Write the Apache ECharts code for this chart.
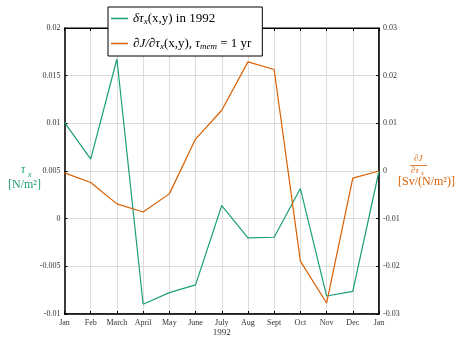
<!DOCTYPE html>
<html>
<head>
<meta charset="utf-8">
<script src="https://cdn.jsdelivr.net/npm/echarts@6/dist/echarts.min.js"></script>
<style>
  html, body { margin: 0; padding: 0; background: #fff; }
  #chart { width: 455px; height: 338px; }
</style>
</head>
<body>
<div id="chart"></div>
<script>
// months 1992 (plus Jan 1993 at the end)
const months = ['Jan', 'Feb', 'March', 'April', 'May', 'June', 'July', 'Aug', 'Sept', 'Oct', 'Nov', 'Dec', 'Jan']
// delta tau_x (left axis, N/m^2)
const tauX = [0.0101, 0.00625, 0.01675, -0.00898, -0.00776, -0.00695, 0.00138, -0.00202, -0.00195, 0.00316, -0.00811, -0.00762, 0.005]
// dJ/dtau_x (right axis, Sv/(N/m^2))
const dJdTau = [-0.0004, -0.0024, -0.0069, -0.0086, -0.0048, 0.0067, 0.01275, 0.0229, 0.0213, -0.0189, -0.0277, -0.0015, 0.0]

const green = '#1b9e77'
const orange = '#d95f02'
const serif = 'Liberation Serif'

let chart = echarts.init(document.getElementById('chart'))

function pairs(vals) {
  return vals.map((v, i) => [i, v])
}

const tickStyle = {fontFamily: serif, fontSize: 8, color: '#333'}
const rich = {
  r: {fontFamily: serif, fontSize: 13, color: '#000'},
  i: {fontFamily: serif, fontSize: 13, fontStyle: 'italic', color: '#000'},
  s: {fontFamily: serif, fontSize: 9, fontStyle: 'italic', color: '#000', padding: [6, 0, 0, 0]}
}

let option = {
  animation: false,
  grid: {left: 64.5, right: 76, top: 28, bottom: 24, outerBoundsMode: 'none', show: true, borderColor: '#000', borderWidth: 1},
  legend: {
    left: 108, top: 7,
    orient: 'vertical',
    backgroundColor: '#fff',
    borderColor: '#000',
    borderWidth: 1,
    padding: [5, 11, 5, 3],
    itemGap: 11,
    itemWidth: 17,
    itemHeight: 1.5,
    icon: 'rect',
    data: ['tau', 'dj'],
    formatter: function (name) {
      if (name === 'tau') return '{i|δτ}{s|x}{r|(x,y) in 1992}'
      return '{i|∂J/∂τ}{s|x}{r|(x,y), }{i|τ}{s|mem}{r| = 1 yr}'
    },
    textStyle: {rich: rich}
  },
  xAxis: [{
    type: 'value', min: 0, max: 12, interval: 1,
    position: 'bottom',
    name: '1992', nameLocation: 'middle', nameGap: 14, nameMoveOverlap: false,
    nameTextStyle: {fontFamily: serif, fontSize: 9, color: '#333'},
    axisLine: {onZero: false, lineStyle: {color: '#000', width: 1.5}},
    axisTick: {inside: true, length: 3, lineStyle: {color: '#000'}},
    axisLabel: Object.assign({margin: 5, formatter: v => months[v] || ''}, tickStyle),
    splitLine: {lineStyle: {color: '#dcdcdc', width: 1}}
  }, {
    type: 'value', min: 0, max: 12, interval: 1,
    position: 'top',
    axisLine: {onZero: false, lineStyle: {color: '#000', width: 1}},
    axisTick: {inside: true, length: 3, lineStyle: {color: '#000'}},
    axisLabel: {show: false},
    splitLine: {show: false}
  }],
  yAxis: [{
    type: 'value', min: -0.01, max: 0.02, interval: 0.005,
    position: 'left',
    axisLine: {show: true, onZero: false, lineStyle: {color: '#000', width: 1.5}},
    axisTick: {show: true, inside: true, length: 3, lineStyle: {color: '#000'}},
    axisLabel: Object.assign({margin: 4, formatter: v => String(+v.toFixed(3))}, tickStyle),
    splitLine: {lineStyle: {color: '#dcdcdc', width: 1}}
  }, {
    type: 'value', min: -0.03, max: 0.03, interval: 0.01,
    position: 'right',
    axisLine: {show: true, onZero: false, lineStyle: {color: '#000', width: 1.5}},
    axisTick: {show: true, inside: true, length: 3, lineStyle: {color: '#000'}},
    axisLabel: Object.assign({margin: 4, formatter: v => String(+v.toFixed(2))}, tickStyle),
    splitLine: {show: false}
  }],
  series: [{
    name: 'tau', type: 'line', xAxisIndex: 0, yAxisIndex: 0,
    data: pairs(tauX), showSymbol: false, color: green,
    lineStyle: {width: 1.2, color: green}
  }, {
    name: 'dj', type: 'line', xAxisIndex: 0, yAxisIndex: 1,
    data: pairs(dJdTau), showSymbol: false, color: orange,
    lineStyle: {width: 1.2, color: orange}
  }],
  graphic: [{
    type: 'text', left: 21, top: 164,
    style: {text: 'τ', font: 'italic 12px "Liberation Serif"', fill: green}
  }, {
    type: 'text', left: 28, top: 171,
    style: {text: 'x', font: 'italic 8px "Liberation Serif"', fill: green}
  }, {
    type: 'text', left: 8, top: 179,
    style: {text: '[N/m²]', font: '12px "Liberation Serif"', fill: green}
  }, {
    type: 'text', left: 414, top: 154,
    style: {text: '∂J', font: 'italic 9px "Liberation Serif"', fill: orange}
  }, {
    type: 'rect', shape: {x: 410, y: 165, width: 17, height: 0.8},
    style: {fill: orange}
  }, {
    type: 'text', left: 411, top: 166,
    style: {text: '∂τ', font: 'italic 9px "Liberation Serif"', fill: orange}
  }, {
    type: 'text', left: 421, top: 170,
    style: {text: 'x', font: 'italic 6px "Liberation Serif"', fill: orange}
  }, {
    type: 'text', left: 398, top: 176,
    style: {text: '[Sv/(N/m²)]', font: '12px "Liberation Serif"', fill: orange}
  }]
}

chart.setOption(option)
</script>
</body>
</html>
